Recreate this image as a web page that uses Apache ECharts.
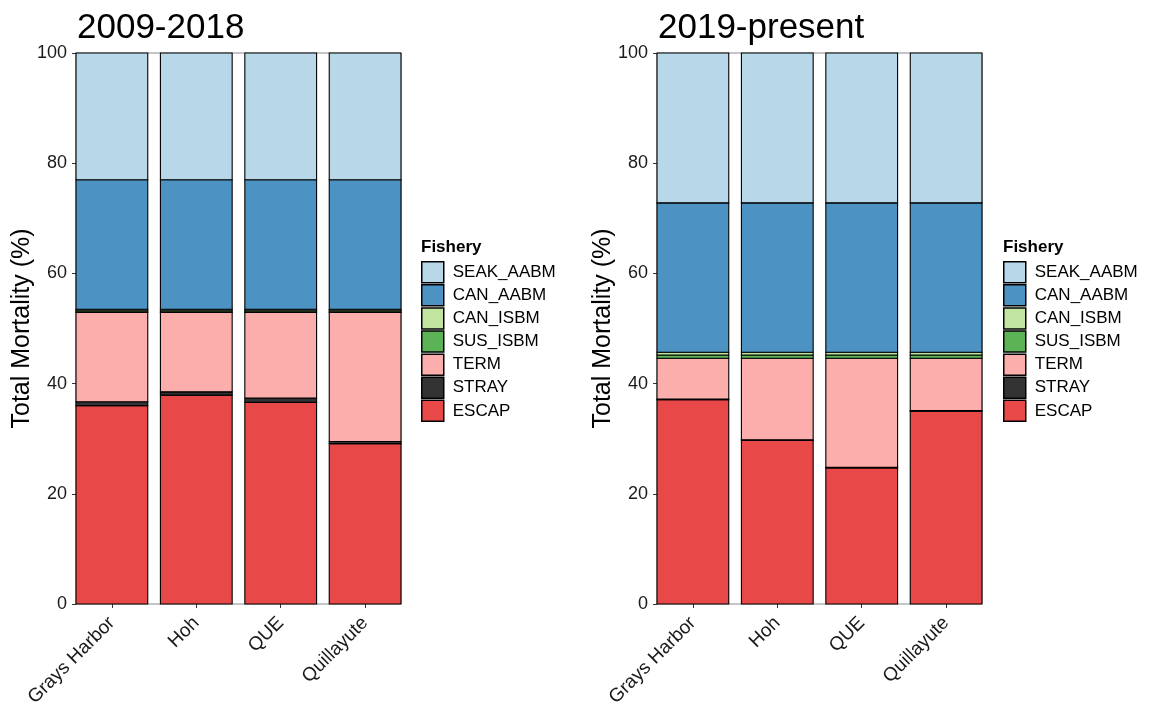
<!DOCTYPE html>
<html><head><meta charset="utf-8">
<script src="https://cdn.jsdelivr.net/npm/echarts@6/dist/echarts.min.js"></script>
<style>html,body{margin:0;padding:0;background:#fff}#c{width:1151px;height:707px}</style>
</head><body><div id="c"></div>
<script>
const categories = ['Grays Harbor', 'Hoh', 'QUE', 'Quillayute'];
const fisheries = ['SEAK_AABM', 'CAN_AABM', 'CAN_ISBM', 'SUS_ISBM', 'TERM', 'STRAY', 'ESCAP'];
const panelTitles = ['2009-2018', '2019-present'];

// Panel 1: 2009-2018
const p1_SEAK_AABM = [23.0, 23.0, 23.0, 23.0];
const p1_CAN_AABM  = [23.5, 23.5, 23.5, 23.5];
const p1_CAN_ISBM  = [0.3, 0.3, 0.3, 0.3];
const p1_SUS_ISBM  = [0.3, 0.3, 0.3, 0.3];
const p1_TERM      = [16.2, 14.4, 15.5, 23.4];
const p1_STRAY     = [0.7, 0.6, 0.8, 0.4];
const p1_ESCAP     = [36.0, 37.9, 36.6, 29.1];

// Panel 2: 2019-present
const p2_SEAK_AABM = [27.2, 27.2, 27.2, 27.2];
const p2_CAN_AABM  = [27.1, 27.1, 27.1, 27.1];
const p2_CAN_ISBM  = [0.5, 0.5, 0.5, 0.5];
const p2_SUS_ISBM  = [0.6, 0.6, 0.6, 0.6];
const p2_TERM      = [7.4, 14.8, 19.8, 9.5];
const p2_STRAY     = [0.1, 0.1, 0.1, 0.1];
const p2_ESCAP     = [37.1, 29.7, 24.7, 35.0];

const colors = {
  SEAK_AABM: '#B8D8E9', CAN_AABM: '#4C93C3', CAN_ISBM: '#C1E5A1', SUS_ISBM: '#5CB356',
  TERM: '#FCAEAD', STRAY: '#333333', ESCAP: '#E94849'
};

const panels = [
  {SEAK_AABM: p1_SEAK_AABM, CAN_AABM: p1_CAN_AABM, CAN_ISBM: p1_CAN_ISBM, SUS_ISBM: p1_SUS_ISBM, TERM: p1_TERM, STRAY: p1_STRAY, ESCAP: p1_ESCAP},
  {SEAK_AABM: p2_SEAK_AABM, CAN_AABM: p2_CAN_AABM, CAN_ISBM: p2_CAN_ISBM, SUS_ISBM: p2_SUS_ISBM, TERM: p2_TERM, STRAY: p2_STRAY, ESCAP: p2_ESCAP}
];

const BAR_W = 0.85;
const stackOrder = fisheries.slice().reverse();
const gridLefts = [76, 657];
const GRID_W = 325;
const FONT = 'Liberation Sans, Arial, Helvetica, sans-serif';

function renderBar(params, api) {
  const x = api.value(0), b = api.value(1), t = api.value(2);
  const p0 = api.coord([x - BAR_W / 2, t]);
  const p1 = api.coord([x + BAR_W / 2, b]);
  return {
    type: 'rect',
    shape: {x: p0[0], y: p0[1], width: p1[0] - p0[0], height: p1[1] - p0[1]},
    style: {fill: api.visual('color'), stroke: '#000', lineWidth: 1.1}
  };
}

const series = [];
panels.forEach((pan, pi) => {
  const base = categories.map(() => 0);
  stackOrder.forEach(f => {
    const vals = pan[f];
    const data = categories.map((c, i) => {
      const d = [i + 1, base[i], base[i] + vals[i]];
      base[i] += vals[i];
      return d;
    });
    series.push({
      type: 'custom', name: f, xAxisIndex: pi, yAxisIndex: pi,
      itemStyle: {color: colors[f]},
      encode: {x: 0, y: [1, 2]},
      renderItem: renderBar, data: data
    });
  });
});

const grids = gridLefts.map(l => ({
  left: l, top: 53, width: GRID_W, height: 551, show: true,
  outerBoundsMode: 'none', containLabel: false,
  borderColor: '#8c8c8c', borderWidth: 1, backgroundColor: 'transparent'
}));

const xAxes = gridLefts.map((l, i) => ({
  type: 'value', gridIndex: i, min: 0.575, max: 4.425,
  axisLine: {show: false}, splitLine: {show: false},
  axisTick: {show: true, customValues: [1, 2, 3, 4], length: 4, lineStyle: {color: '#333'}},
  axisLabel: {
    show: true, customValues: [1, 2, 3, 4], rotate: 45, margin: 16,
    fontFamily: FONT, fontSize: 19, color: '#1a1a1a',
    formatter: v => categories[Math.round(v) - 1] || ''
  }
}));

const yAxes = gridLefts.map((l, i) => ({
  type: 'value', gridIndex: i, min: 0, max: 100, interval: 20,
  name: 'Total Mortality (%)', nameLocation: 'middle', nameRotate: 90, nameGap: 41,
  nameMoveOverlap: false,
  nameTextStyle: {fontFamily: FONT, fontSize: 25, color: '#000'},
  axisLine: {show: false}, splitLine: {show: false},
  axisTick: {show: true, length: 4, lineStyle: {color: '#333'}},
  axisLabel: {fontFamily: FONT, fontSize: 18, color: '#1a1a1a', margin: 9}
}));

const legendLefts = [421, 1003];
const titles = [];
panelTitles.forEach((t, i) => {
  titles.push({text: t, left: gridLefts[i] + 1, top: 11, padding: 0,
    textStyle: {fontFamily: FONT, fontSize: 35, fontWeight: 'normal', color: '#000'}});
  titles.push({text: 'Fishery', left: legendLefts[i], top: 239, padding: 0,
    textStyle: {fontFamily: FONT, fontSize: 17, fontWeight: 'bold', color: '#000'}});
});

const legends = legendLefts.map(l => ({
  orient: 'vertical', left: l, top: 261, icon: 'rect', padding: 0,
  itemWidth: 22, itemHeight: 21, itemGap: 0.6,
  itemStyle: {borderColor: '#000', borderWidth: 1.5},
  textStyle: {fontFamily: FONT, fontSize: 17, color: '#000', padding: [0, 0, 0, 4]},
  data: fisheries, selectedMode: false
}));

const chart = echarts.init(document.getElementById('c'), null, {renderer: 'canvas'});
chart.setOption({
  animation: false, backgroundColor: '#fff',
  title: titles, legend: legends, grid: grids,
  xAxis: xAxes, yAxis: yAxes, series: series
});
</script></body></html>
